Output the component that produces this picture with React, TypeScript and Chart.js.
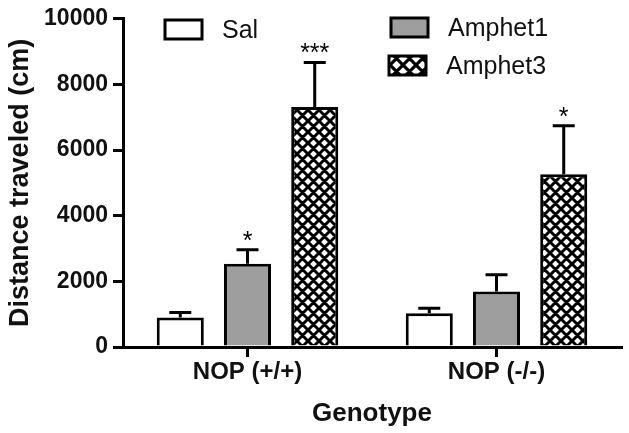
import React, { useEffect, useRef } from "react";
import { Chart, registerables } from "chart.js";

Chart.register(...registerables);

const CATEGORIES = ["NOP (+/+)", "NOP (-/-)"];
const SERIES = ["Sal", "Amphet1", "Amphet3"];
const SAL = [900, 1030];
const AMPHET1 = [2540, 1690];
const AMPHET3 = [7310, 5260];
const SAL_ERR = [150, 150];
const AMPHET1_ERR = [420, 510];
const AMPHET3_ERR = [1360, 1480];
const SAL_SIG = ["", ""];
const AMPHET1_SIG = ["*", ""];
const AMPHET3_SIG = ["***", "*"];
const Y_TICKS = [0, 2000, 4000, 6000, 8000, 10000];

const FONT = '"Liberation Sans", Arial, sans-serif';

function makeHatch(size: number, lw: number): CanvasPattern | string {
  const c = document.createElement("canvas");
  c.width = size;
  c.height = size;
  const g = c.getContext("2d");
  if (!g) return "#fff";
  g.fillStyle = "#fff";
  g.fillRect(0, 0, size, size);
  g.strokeStyle = "#000";
  g.lineWidth = lw;
  g.beginPath();
  for (const k of [-size, 0, size]) {
    g.moveTo(k, 0);
    g.lineTo(k + size, size);
    g.moveTo(k, size);
    g.lineTo(k + size, 0);
  }
  g.stroke();
  const p = g.createPattern(c, "repeat");
  return p || "#fff";
}

export default function App() {
  const ref = useRef<HTMLCanvasElement>(null);
  useEffect(() => {
    if (!ref.current) return;
    const hatch = makeHatch(11, 3);
    const legendHatch = makeHatch(13, 3.2);
    const errs = [SAL_ERR, AMPHET1_ERR, AMPHET3_ERR];
    const sigs = [SAL_SIG, AMPHET1_SIG, AMPHET3_SIG];

    const errPlugin = {
      id: "errbars",
      afterDatasetsDraw(chart: any) {
        const ctx = chart.ctx;
        const ys = chart.scales.y;
        chart.data.datasets.forEach((ds: any, di: number) => {
          const meta = chart.getDatasetMeta(di);
          meta.data.forEach((bar: any, i: number) => {
            const v = ds.data[i];
            const top = ys.getPixelForValue(v + errs[di][i]);
            const x = bar.x;
            ctx.save();
            ctx.strokeStyle = "#000";
            ctx.lineWidth = 3;
            ctx.beginPath();
            ctx.moveTo(x, bar.y);
            ctx.lineTo(x, top);
            ctx.moveTo(x - 11, top);
            ctx.lineTo(x + 11, top);
            ctx.stroke();
            const s = sigs[di][i];
            if (s) {
              ctx.fillStyle = "#000";
              ctx.font = "25px " + FONT;
              ctx.textAlign = "center";
              ctx.textBaseline = "alphabetic";
              ctx.fillText(s, x, top - 1);
            }
            ctx.restore();
          });
        });
      },
    };

    const legendPos = [
      { x: 165, y: 20 },
      { x: 391, y: 18 },
      { x: 389, y: 56 },
    ];
    const legendPlugin = {
      id: "customLegend",
      afterDraw(chart: any) {
        const ctx = chart.ctx;
        chart.data.datasets.forEach((ds: any, di: number) => {
          const p = legendPos[di];
          ctx.save();
          ctx.fillStyle = typeof ds.backgroundColor === "string" ? ds.backgroundColor : legendHatch;
          ctx.fillRect(p.x, p.y, 37, 19);
          ctx.strokeStyle = "#000";
          ctx.lineWidth = 3;
          ctx.strokeRect(p.x, p.y, 37, 19);
          ctx.fillStyle = "#111";
          ctx.font = "25px " + FONT;
          ctx.textAlign = "left";
          ctx.textBaseline = "middle";
          ctx.fillText(ds.label, p.x + 57, p.y + 11);
          ctx.restore();
        });
      },
    };

    const chart = new Chart(ref.current, {
      type: "bar",
      data: {
        labels: CATEGORIES,
        datasets: [
          { label: SERIES[0], data: SAL, backgroundColor: "#ffffff", borderColor: "#000", borderWidth: 3 },
          { label: SERIES[1], data: AMPHET1, backgroundColor: "#9e9e9e", borderColor: "#000", borderWidth: 3 },
          { label: SERIES[2], data: AMPHET3, backgroundColor: hatch as any, borderColor: "#000", borderWidth: 3 },
        ],
      },
      options: {
        animation: false,
        responsive: false,
        layout: { padding: { top: 16, right: 8, left: 0, bottom: 0 } },
        datasets: { bar: { categoryPercentage: 0.81, barPercentage: 0.7 } },
        plugins: { legend: { display: false }, tooltip: { enabled: false } },
        scales: {
          x: {
            offset: true,
            grid: { display: true, drawOnChartArea: false, offset: false, color: "#000", lineWidth: 3, tickLength: 10 },
            border: { display: true, color: "#000", width: 3 },
            ticks: { color: "#111", padding: 1, font: { family: FONT, size: 24, weight: "bold" } },
            title: {
              display: true,
              text: "Genotype",
              color: "#111",
              padding: { top: 0, bottom: 4 },
              font: { family: FONT, size: 26, weight: "bold" },
            },
            afterFit: (s: any) => {
              s.height = 86;
            },
          },
          y: {
            min: 0,
            max: 10000,
            grid: { display: true, drawOnChartArea: false, color: "#000", lineWidth: 3, tickLength: 10 },
            border: { display: true, color: "#000", width: 3 },
            afterBuildTicks: (s: any) => {
              s.ticks = Y_TICKS.map((v) => ({ value: v }));
            },
            ticks: {
              color: "#111",
              padding: 5,
              font: { family: FONT, size: 23, weight: "bold" },
              callback: (v: any) => String(v),
            },
            title: {
              display: true,
              text: "Distance traveled (cm)",
              color: "#111",
              padding: { top: 4, bottom: 0 },
              font: { family: FONT, size: 27, weight: "bold" },
            },
            afterFit: (s: any) => {
              s.width = 123;
            },
          },
        },
      },
      plugins: [errPlugin, legendPlugin],
    });
    return () => chart.destroy();
  }, []);

  return (
    <div style={{ position: "fixed", left: 0, top: 0, width: 629, height: 433, background: "#fff" }}>
      <canvas ref={ref} width={629} height={433} />
    </div>
  );
}
